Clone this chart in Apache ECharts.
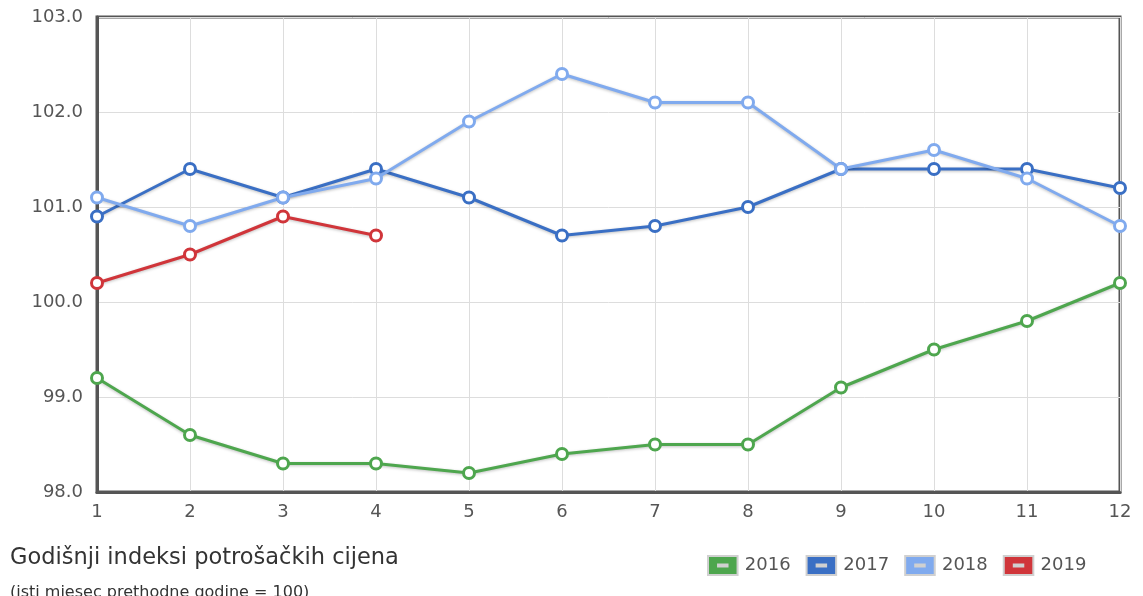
<!DOCTYPE html>
<html><head><meta charset="utf-8">
<script src="https://cdn.jsdelivr.net/npm/echarts@6/dist/echarts.min.js"></script>
<style>html,body{margin:0;padding:0;background:#fff}#c{width:1143px;height:596px}</style>
</head><body><div id="c"></div>
<script>
const months = ['1','2','3','4','5','6','7','8','9','10','11','12'];
const s2016 = [99.2, 98.6, 98.3, 98.3, 98.2, 98.4, 98.5, 98.5, 99.1, 99.5, 99.8, 100.2];
const s2017 = [100.9, 101.4, 101.1, 101.4, 101.1, 100.7, 100.8, 101.0, 101.4, 101.4, 101.4, 101.2];
const s2018 = [101.1, 100.8, 101.1, 101.3, 101.9, 102.4, 102.1, 102.1, 101.4, 101.6, 101.3, 100.8];
const s2019 = [100.2, 100.5, 100.9, 100.7];
const names = ['2016','2017','2018','2019'];
const colors = ['#4ea64e','#3a6fc4','#80aaee','#d0353a'];
const title = 'Godišnji indeksi potrošačkih cijena';
const subtitle = '(isti mjesec prethodne godine = 100)';

const FF = 'DejaVu Sans, Liberation Sans, Arial, sans-serif';
const chart = echarts.init(document.getElementById('c'), null, {renderer:'canvas'});
const icon = 'path://M0,0 L28,0 L28,18 L0,18 Z M9.5,8 L9.5,10 L18.5,10 L18.5,8 Z';
function mk(name, data, color){
  return {
    name, type:'line', data, color,
    symbol:'circle', symbolSize:11, showSymbol:true,
    lineStyle:{width:3, color, shadowColor:'rgba(0,0,0,0.25)', shadowBlur:3, shadowOffsetY:1},
    itemStyle:{color:'#fff', borderColor:color, borderWidth:3},
    emphasis:{disabled:true}, animation:false
  };
}
chart.setOption({
  animation:false,
  textStyle:{fontFamily:FF},
  grid:{left:97, right:23, top:17, bottom:104, show:true, borderColor:'#555', borderWidth:3, containLabel:false},
  title:[
    {text:title, left:10, top:547, padding:0, textStyle:{fontSize:22.5, fontWeight:'normal', color:'#333', fontFamily:FF}},
    {text:subtitle, left:10, top:585, padding:0, textStyle:{fontSize:16, fontWeight:'normal', color:'#333', fontFamily:FF}}
  ],
  legend:{
    left:707, top:555, padding:0, itemWidth:30, itemGap:15, itemHeight:19,
    data: names.map((n,i)=>({name:n, icon:icon, itemStyle:{color:colors[i], borderColor:'#d0d0d0', borderWidth:2}})),
    textStyle:{fontSize:18, color:'#555', fontFamily:FF, padding:[0,0,0,2]}
  },
  xAxis:{type:'category', data:months, boundaryGap:false,
    axisLine:{show:true, lineStyle:{color:'#555', width:3}},
    axisTick:{show:false},
    axisLabel:{fontSize:18, color:'#555', margin:11},
    splitLine:{show:true, lineStyle:{color:'#ddd', width:1}}
  },
  yAxis:{type:'value', min:98, max:103, interval:1,
    axisLine:{show:true, lineStyle:{color:'#555', width:3}},
    axisTick:{show:false},
    axisLabel:{fontSize:18, color:'#555', margin:14, formatter:v=>v.toFixed(1)},
    splitLine:{show:true, lineStyle:{color:'#ddd', width:1}}
  },
  series:[mk('2016',s2016,colors[0]), mk('2017',s2017,colors[1]), mk('2018',s2018,colors[2]), mk('2019',s2019,colors[3])]
});
</script></body></html>
